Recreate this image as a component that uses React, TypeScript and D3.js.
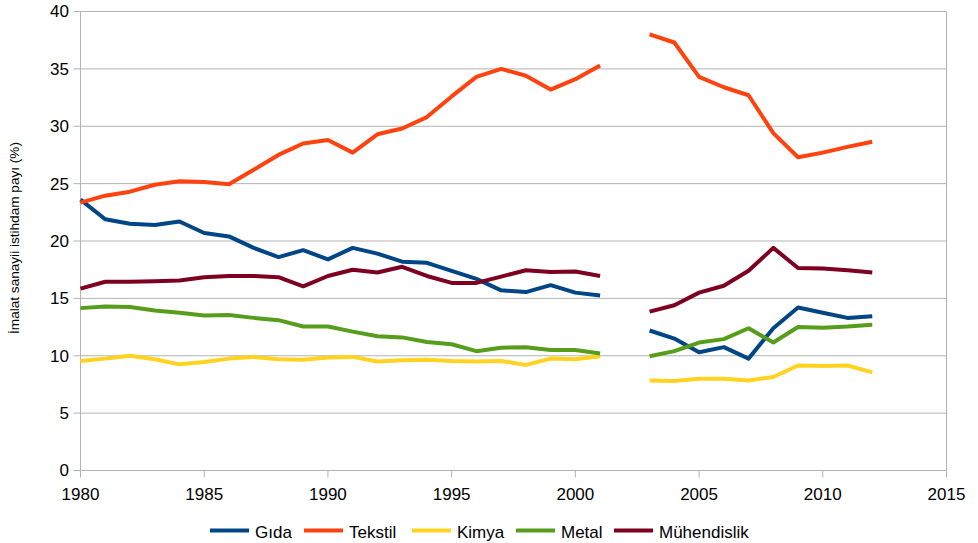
import React from "react";
import * as d3 from "d3";

const years: number[] = d3.range(1980, 2013);

const gida: (number | null)[] = [23.6, 21.9, 21.5, 21.4, 21.7, 20.7, 20.4, 19.4, 18.6, 19.2, 18.4, 19.4, 18.9, 18.2, 18.1, 17.4, 16.7, 15.7, 15.55, 16.15, 15.5, 15.25, null, 12.2, 11.5, 10.3, 10.75, 9.75, 12.4, 14.2, 13.75, 13.3, 13.45];
const tekstil: (number | null)[] = [23.35, 23.95, 24.3, 24.9, 25.2, 25.15, 24.95, 26.2, 27.5, 28.5, 28.8, 27.7, 29.3, 29.8, 30.8, 32.6, 34.3, 35.0, 34.4, 33.2, 34.1, 35.3, null, 38.0, 37.3, 34.3, 33.4, 32.7, 29.4, 27.3, 27.7, 28.2, 28.65];
const kimya: (number | null)[] = [9.55, 9.75, 10.0, 9.7, 9.25, 9.45, 9.75, 9.9, 9.7, 9.65, 9.85, 9.9, 9.5, 9.6, 9.65, 9.55, 9.5, 9.55, 9.2, 9.75, 9.7, 9.95, null, 7.85, 7.8, 8.0, 8.0, 7.85, 8.15, 9.15, 9.1, 9.15, 8.55];
const metal: (number | null)[] = [14.15, 14.3, 14.25, 13.95, 13.75, 13.5, 13.55, 13.3, 13.1, 12.55, 12.55, 12.1, 11.7, 11.6, 11.2, 11.0, 10.4, 10.7, 10.75, 10.5, 10.5, 10.2, null, 9.95, 10.4, 11.15, 11.45, 12.4, 11.15, 12.5, 12.45, 12.55, 12.7];
const muhendislik: (number | null)[] = [15.85, 16.45, 16.45, 16.5, 16.55, 16.85, 16.95, 16.95, 16.85, 16.05, 16.95, 17.5, 17.25, 17.75, 16.95, 16.35, 16.35, 16.9, 17.45, 17.3, 17.35, 16.95, null, 13.85, 14.4, 15.5, 16.1, 17.4, 19.4, 17.65, 17.6, 17.45, 17.25];

const seriesNames: string[] = ["Gıda", "Tekstil", "Kimya", "Metal", "Mühendislik"];
const seriesValues = [gida, tekstil, kimya, metal, muhendislik];
const seriesColors: string[] = ["#004586", "#ff420e", "#ffd320", "#579d1c", "#7e0021"];

const xTicks: number[] = [1980, 1985, 1990, 1995, 2000, 2005, 2010, 2015];
const yTicks: number[] = [0, 5, 10, 15, 20, 25, 30, 35, 40];
const yLabel = "İmalat sanayii istihdam payı (%)";

const W = 978;
const H = 543;
const left = 80.5;
const right = 946.5;
const top = 11.5;
const bottom = 470.5;
const FONT = "'Liberation Sans', Arial, sans-serif";
const GRID = "#b3b3b3";

const legendX: number[] = [210, 304, 412, 516, 614];

export default function App() {
  const x = d3.scaleLinear().domain([1980, 2015]).range([left, right]);
  const y = d3.scaleLinear().domain([0, 40]).range([bottom, top]);

  const line = d3
    .line<[number, number | null]>()
    .defined((d) => d[1] != null)
    .x((d) => x(d[0]))
    .y((d) => y(d[1] as number));

  return (
    <svg
      width={W}
      height={H}
      style={{ position: "absolute", left: 0, top: 0, background: "#fff" }}
      fontFamily={FONT}
    >
      {yTicks.map((t) => (
        <g key={"y" + t}>
          <line x1={left - 7} x2={right} y1={y(t)} y2={y(t)} stroke={GRID} strokeWidth={1} />
          <text x={69} y={y(t)} dy="0.35em" textAnchor="end" fontSize={17} fill="#000">
            {t}
          </text>
        </g>
      ))}
      <line x1={left} x2={left} y1={top} y2={bottom} stroke={GRID} strokeWidth={1} />
      <line x1={right} x2={right} y1={top} y2={bottom} stroke={GRID} strokeWidth={1} />
      {xTicks.map((t) => (
        <g key={"x" + t}>
          <line x1={x(t)} x2={x(t)} y1={bottom} y2={bottom + 7} stroke={GRID} strokeWidth={1} />
          <text x={x(t)} y={500} textAnchor="middle" fontSize={17} fill="#000">
            {t}
          </text>
        </g>
      ))}
      <text
        transform={`translate(19,238) rotate(-90)`}
        textAnchor="middle"
        fontSize={13.6}
        fill="#000"
      >
        {yLabel}
      </text>
      {seriesValues.map((vals, i) => (
        <path
          key={seriesNames[i]}
          d={line(years.map((yr, j) => [yr, vals[j]] as [number, number | null])) || ""}
          fill="none"
          stroke={seriesColors[i]}
          strokeWidth={4}
          strokeLinejoin="round"
          strokeLinecap="butt"
        />
      ))}
      {seriesNames.map((n, i) => (
        <g key={"lg" + n}>
          <line x1={legendX[i]} x2={legendX[i] + 39} y1={530.5} y2={530.5} stroke={seriesColors[i]} strokeWidth={4} />
          <text x={legendX[i] + 45} y={537.5} fontSize={17} fill="#000">
            {n}
          </text>
        </g>
      ))}
    </svg>
  );
}
